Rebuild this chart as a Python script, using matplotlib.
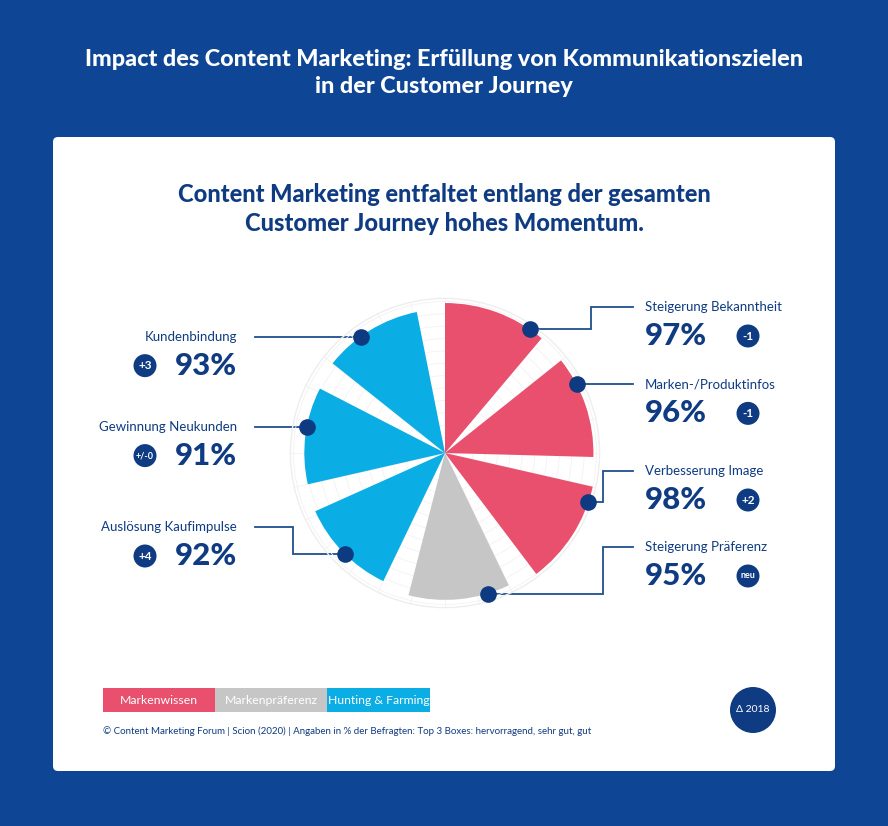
import numpy as np
import matplotlib
matplotlib.use("Agg")
import matplotlib.pyplot as plt
from matplotlib.patches import FancyBboxPatch, Rectangle, Circle

# ---------------- data ----------------
names = ["Steigerung Bekanntheit", "Marken-/Produktinfos", "Verbesserung Image",
         "Steigerung Präferenz", "Auslösung Kaufimpulse", "Gewinnung Neukunden",
         "Kundenbindung"]
values = [97, 96, 98, 95, 92, 91, 93]
changes = ["-1", "-1", "+2", "neu", "+4", "+/-0", "+3"]
groups = [0, 0, 0, 1, 2, 2, 2]
group_names = ["Markenwissen", "Markenpräferenz", "Hunting & Farming"]

title = "Impact des Content Marketing: Erfüllung von Kommunikationszielen\nin der Customer Journey"
subtitle = "Content Marketing entfaltet entlang der gesamten\nCustomer Journey hohes Momentum."
footer = ("© Content Marketing Forum | Scion (2020) | Angaben in % der Befragten: "
          "Top 3 Boxes: hervorragend, sehr gut, gut")
delta_label = "Δ 2018"

# ---------------- style / layout ----------------
W, H = 888, 826
BG = "#0E4595"
NAVY = "#0F3B82"
DOT = "#0D3A80"
group_colors = ["#E9506D", "#C6C6C6", "#0AADE4"]
FONT = ["Lato", "DejaVu Sans"]
plt.rcParams["font.family"] = FONT

cx, cy, R = 445, 453, 154.6           # pie centre and radius (px) for 100 %
seg_frac = 0.78                         # angular fill of each slot
dot_frac = [0.86, 0.275, 0.15, 0.22, 0.475, 0.59, 0.385]
name_y = [307, None, 471, 547, 527, None, None]   # None -> straight leader line
elbow_x = [591, None, 603, 603, 293, None, None]
side = [1, 1, 1, 1, -1, -1, -1]

fig = plt.figure(figsize=(W / 100, H / 100), dpi=100)
fig.patch.set_facecolor(BG)

bg = fig.add_axes([0, 0, 1, 1])
bg.set_xlim(0, W)
bg.set_ylim(H, 0)
bg.axis("off")
bg.patch.set_alpha(0)

# card
bg.add_patch(FancyBboxPatch((53, 137), 782, 634, boxstyle="round,pad=0,rounding_size=5",
                            fc="white", ec="none", zorder=1))

bg.text(W / 2, 73, title, color="white", fontsize=16.8, fontweight="black",
        ha="center", va="center", linespacing=1.38, zorder=3)
bg.text(W / 2, 209, subtitle, color=NAVY, fontsize=17, fontweight="black",
        ha="center", va="center", linespacing=1.3, zorder=3)

# polar chart
pax = fig.add_axes([(cx - R) / W, 1 - (cy + R) / H, 2 * R / W, 2 * R / H],
                   projection="polar")
pax.set_theta_zero_location("N")
pax.set_theta_direction(-1)
pax.set_ylim(0, 100)
pax.patch.set_alpha(0)
n = len(values)
slot = 2 * np.pi / n
theta = np.arange(n) * slot
pax.bar(theta, values, width=slot * seg_frac, align="edge",
        color=[group_colors[g] for g in groups], edgecolor="none", zorder=3)
pax.set_rgrids(np.arange(10, 100, 8), labels=[])
pax.set_thetagrids(np.arange(0, 360, 360 / 28), labels=[])
pax.grid(color="#F2F2F2", lw=0.6)
pax.spines["polar"].set_color("#EEEEEE")
pax.spines["polar"].set_linewidth(1.0)

dot_theta = theta + np.array(dot_frac) * slot * seg_frac
pax.scatter(dot_theta, values, s=120, color=DOT, zorder=5, clip_on=False)

# leader lines + labels
to_bg = bg.transData.inverted()
for i in range(n):
    px, py = to_bg.transform(pax.transData.transform((dot_theta[i], values[i])))
    ly = name_y[i] if name_y[i] is not None else py
    ex = elbow_x[i] if elbow_x[i] is not None else px
    if side[i] > 0:
        end_x = 633
        tx, ha = 645, "left"
        bx = 748
    else:
        end_x = 255
        tx, ha = 237, "right"
        bx = 145
    bg.plot([px, ex, ex, end_x], [py, py, ly, ly],
            color="#1F4E8F", lw=1.3, zorder=2, solid_joinstyle="miter")
    bg.text(tx, ly, names[i], color=NAVY, fontsize=9.5, ha=ha, va="center", zorder=3)
    bg.text(tx, ly + 29, f"{values[i]}%", color=NAVY, fontsize=22.5, fontweight="black",
            ha=ha, va="center", zorder=3)
    bg.add_patch(Circle((bx, ly + 29), 11.5, fc=NAVY, ec="none", zorder=3))
    bg.text(bx, ly + 29, changes[i], color="white",
            fontsize=8.5 if len(changes[i]) < 3 else 6.5, fontweight="bold",
            ha="center", va="center", zorder=4)

# legend boxes
lx = [103, 215, 327]
lw_ = [112, 112, 103]
for k, gname in enumerate(group_names):
    bg.add_patch(Rectangle((lx[k], 688), lw_[k], 24, fc=group_colors[k], ec="none", zorder=2))
    bg.text(lx[k] + lw_[k] / 2, 700, gname, color="white", fontsize=8.8,
            ha="center", va="center", zorder=3)

bg.text(103, 731, footer, color=NAVY, fontsize=7.0, ha="left", va="center", zorder=3)

bg.add_patch(Circle((753, 710), 23, fc=NAVY, ec="none", zorder=2))
bg.text(753, 710, delta_label, color="white", fontsize=7.5, ha="center", va="center", zorder=3)

fig.savefig("out.png", dpi=100, facecolor=BG)
